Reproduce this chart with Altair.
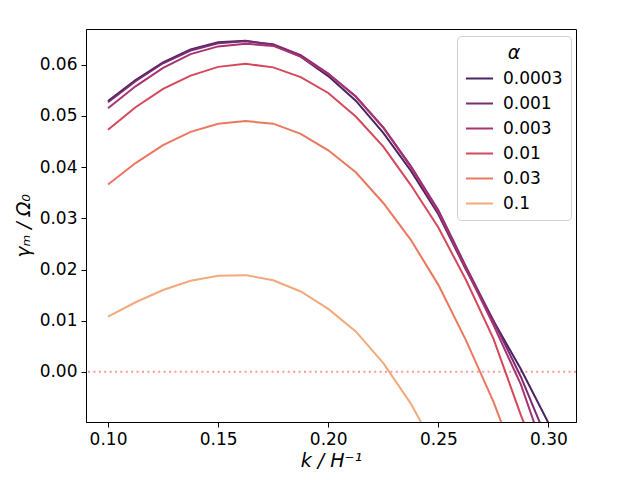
import altair as alt
import pandas as pd

k = [0.1, 0.1125, 0.125, 0.1375, 0.15, 0.1625, 0.175, 0.1875, 0.2,
     0.2125, 0.225, 0.2375, 0.25, 0.2625, 0.275, 0.2875, 0.3]

alphas = ["0.0003", "0.001", "0.003", "0.01", "0.03", "0.1"]

g_0003 = [0.0529, 0.0570, 0.0605, 0.0630, 0.0644, 0.0647, 0.0639, 0.0616, 0.0578,
          0.0530, 0.0467, 0.0393, 0.0308, 0.0200, 0.0100, 0.0005, -0.0100]
g_001 = [0.0527, 0.0568, 0.0603, 0.0628, 0.0642, 0.0646, 0.0640, 0.0619, 0.0583,
         0.0538, 0.0478, 0.0402, 0.0316, 0.0206, 0.0100, -0.0010, -0.0140]
g_003 = [0.0515, 0.0558, 0.0594, 0.0621, 0.0636, 0.0641, 0.0637, 0.0616, 0.0582,
         0.0538, 0.0477, 0.0400, 0.0312, 0.0202, 0.0092, -0.0025, -0.0180]
g_01 = [0.0473, 0.0517, 0.0553, 0.0579, 0.0596, 0.0602, 0.0595, 0.0576, 0.0545,
        0.0499, 0.0440, 0.0365, 0.0282, 0.0180, 0.0065, -0.0085, -0.0220]
g_03 = [0.0366, 0.0408, 0.0443, 0.0469, 0.0485, 0.0490, 0.0485, 0.0465, 0.0433,
        0.0390, 0.0330, 0.0258, 0.0170, 0.0062, -0.0058, -0.0200, -0.0360]
g_1 = [0.0108, 0.0136, 0.0160, 0.0178, 0.0188, 0.0189, 0.0179, 0.0157, 0.0123,
       0.0079, 0.0017, -0.0062, -0.0160, -0.0280, -0.0420, -0.0580, -0.0760]

series = [g_0003, g_001, g_003, g_01, g_03, g_1]
colors = ["#4b2262", "#7b2a74", "#a8346e", "#d4485c", "#ea7860", "#f0aa7b"]

x_ticks = [0.10, 0.15, 0.20, 0.25, 0.30]
y_ticks = [0.00, 0.01, 0.02, 0.03, 0.04, 0.05, 0.06]

rows = []
for a, vals in zip(alphas, series):
    for kk, v in zip(k, vals):
        rows.append({"k": kk, "gamma": v, "alpha": a})
df = pd.DataFrame(rows)

xscale = alt.Scale(domain=[0.09, 0.3125], nice=False, zero=False)
yscale = alt.Scale(domain=[-0.0098, 0.067], nice=False, zero=False)

zero = alt.Chart(pd.DataFrame({"y": [0.0]})).mark_rule(
    color="#ff9999", strokeDash=[2, 3.4], strokeWidth=2
).encode(y=alt.Y("y:Q", scale=yscale))

lines = alt.Chart(df).mark_line(clip=True, strokeWidth=2).encode(
    x=alt.X("k:Q", scale=xscale,
            axis=alt.Axis(values=x_ticks, format=".2f", title="k / H⁻¹")),
    y=alt.Y("gamma:Q", scale=yscale,
            axis=alt.Axis(values=y_ticks, format=".2f", title="γₘ / Ω₀")),
    color=alt.Color("alpha:N", sort=alphas,
                    scale=alt.Scale(domain=alphas, range=colors),
                    legend=alt.Legend(title="α", orient="none", legendX=371, legendY=7,
                                      symbolType="stroke", symbolSize=729,
                                      symbolStrokeWidth=2, labelFontSize=17,
                                      titleFontSize=19, titleFontStyle="italic",
                                      titleFontWeight="normal", titleAnchor="middle",
                                      fillColor="white", strokeColor="#d0d0d0",
                                      cornerRadius=4, padding=8, rowPadding=2,
                                      labelOffset=9, titlePadding=1,
                                      labelColor="black", titleColor="black")),
)

chart = alt.layer(zero, lines).properties(
    width=490, height=393, autosize="none",
    padding={"left": 78, "top": 21, "right": 56, "bottom": 50},
).configure(font="DejaVu Sans").configure_view(
    stroke="black", strokeWidth=1
).configure_axis(
    grid=False, domainColor="black", tickColor="black", tickSize=5,
    labelFontSize=17, labelColor="black", labelPadding=4,
    titleFontSize=19, titleFontWeight="normal", titleFontStyle="italic",
    titleColor="black",
).configure_axisX(titlePadding=4).configure_axisY(titlePadding=6)

chart.save("out.html", embed_options={"renderer": "svg", "actions": False})
